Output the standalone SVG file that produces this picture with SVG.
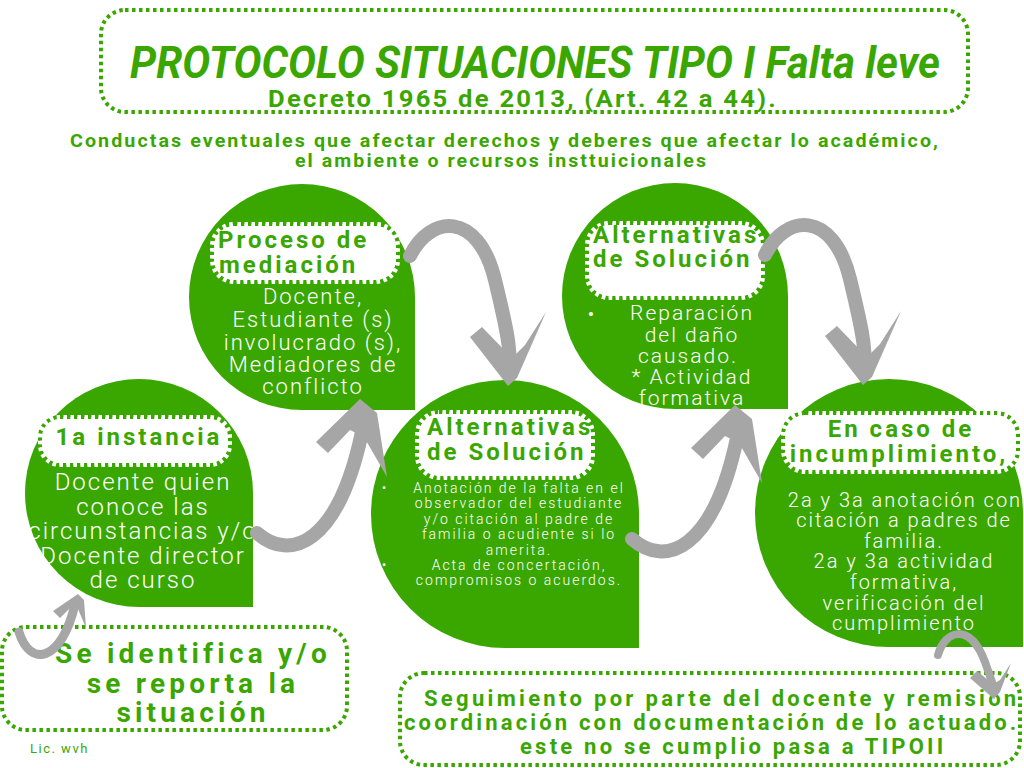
<svg xmlns="http://www.w3.org/2000/svg" width="1024" height="768" viewBox="0 0 1024 768">
<style>
.blob{fill:#3aa700}
.dotbox{fill:none;stroke:#3aa700;stroke-width:4;stroke-dasharray:3.5 3.5}
.lb{fill:#fff;stroke:#3aa700;stroke-width:4;stroke-dasharray:3.5 3.5}
.lbw{fill:none;stroke:#fff;stroke-width:4;stroke-dasharray:3.5 3.5;stroke-dashoffset:3.5}
text{font-family:Roboto,"Liberation Sans",sans-serif}
.gt{font-weight:700;fill:#3aa700}
.lt{font-weight:700;font-size:24px;fill:#3aa700;letter-spacing:3px}
.bt{fill:#fff;font-weight:300;letter-spacing:2px;text-anchor:middle}
.arr{fill:none;stroke:#a6a6a6;stroke-width:14;stroke-linecap:round}
.ah{fill:#a6a6a6}
</style>

<g id="header">
<rect class="dotbox" x="101" y="10" width="867" height="102" rx="24"/>
<text class="gt" x="130" y="78" font-size="44" font-style="italic" textLength="810" lengthAdjust="spacingAndGlyphs">PROTOCOLO SITUACIONES TIPO I Falta leve</text>
<text class="gt" x="268" y="107" font-size="23" letter-spacing="2" textLength="510" lengthAdjust="spacingAndGlyphs">Decreto 1965 de 2013, (Art. 42 a 44).</text>
</g>

<g id="intro">
<text class="gt" x="70" y="147" font-size="19" letter-spacing="2" textLength="870" lengthAdjust="spacingAndGlyphs">Conductas eventuales que afectar derechos y deberes que afectar lo académico,</text>
<text class="gt" x="295" y="167" font-size="19" letter-spacing="2" textLength="413" lengthAdjust="spacingAndGlyphs">el ambiente o recursos insttuicionales</text>
</g>

<g id="n1">
<path class="blob" d="M25,493 A114,114 0 0 1 139,379 A114,114 0 0 1 253,493 L253,607 L139,607 A114,114 0 0 1 25,493 Z"/>
<rect class="lb" x="40" y="417" width="190" height="48" rx="20"/>
<rect class="lbw" x="40" y="417" width="190" height="48" rx="20"/>
<text class="lt" x="139" y="445" text-anchor="middle" letter-spacing="2.6">1a instancia</text>
<g class="bt" font-size="24" letter-spacing="3.4">
<text x="143" y="490">Docente quien</text>
<text x="143" y="514.5">conoce las</text>
<text x="143" y="539">circunstancias y/o</text>
<text x="143" y="563.5">Docente director</text>
<text x="143" y="588">de curso</text>
</g>
</g>

<g id="n2">
<path class="blob" d="M189,297 A113,113 0 0 1 302,184 A113,113 0 0 1 415,297 L415,410 L302,410 A113,113 0 0 1 189,297 Z"/>
<rect class="lb" x="212" y="224" width="186" height="58" rx="22"/>
<rect class="lbw" x="212" y="224" width="186" height="58" rx="22"/>
<text class="lt" x="218" y="248" font-size="25" letter-spacing="3.6">Proceso de</text>
<text class="lt" x="219" y="273" font-size="25" letter-spacing="3.6">mediación</text>
<g class="bt" font-size="22" letter-spacing="2.9">
<text x="313" y="304">Docente,</text>
<text x="313" y="327">Estudiante (s)</text>
<text x="313" y="350">involucrado (s),</text>
<text x="313" y="372">Mediadores de</text>
<text x="313" y="394">conflicto</text>
</g>
</g>

<g id="n3">
<path class="blob" d="M371,514 A134,134 0 0 1 505,380 A134,134 0 0 1 639,514 L639,648 L505,648 A134,134 0 0 1 371,514 Z"/>
<rect class="lb" x="417" y="412" width="176" height="66" rx="22"/>
<rect class="lbw" x="417" y="412" width="176" height="66" rx="22"/>
<text class="lt" x="427" y="435">Alternativas</text>
<text class="lt" x="427" y="460">de Solución</text>
<g class="bt" font-size="14" letter-spacing="2">
<text x="385" y="493">•</text>
<text x="519" y="493">Anotación de la falta en el</text>
<text x="519" y="508">observador del estudiante</text>
<text x="519" y="524">y/o citación al padre de</text>
<text x="519" y="539">familia o acudiente si lo</text>
<text x="519" y="555">amerita.</text>
<text x="385" y="570">•</text>
<text x="519" y="570">Acta de concertación,</text>
<text x="519" y="585">compromisos o acuerdos.</text>
</g>
</g>

<g id="n4">
<path class="blob" d="M562,296 A113,113 0 0 1 675,183 A113,113 0 0 1 788,296 L788,409 L675,409 A113,113 0 0 1 562,296 Z"/>
<rect class="lb" x="587" y="223" width="176" height="75" rx="22"/>
<rect class="lbw" x="587" y="223" width="176" height="75" rx="22"/>
<text class="lt" x="593" y="243">Alternativas</text>
<text class="lt" x="593" y="267">de Solución</text>
<g class="bt" font-size="21" letter-spacing="2.7">
<text x="592" y="321">•</text>
<text x="692" y="320">Reparación</text>
<text x="692" y="342">del daño</text>
<text x="688" y="363">causado.</text>
<text x="692" y="384">* Actividad</text>
<text x="692" y="405">formativa</text>
</g>
</g>

<g id="n5">
<path class="blob" d="M755,513 A134,134 0 0 1 889,379 A134,134 0 0 1 1023,513 L1023,647 L889,647 A134,134 0 0 1 755,513 Z"/>
<rect class="lb" x="783" y="413" width="235" height="59" rx="22"/>
<rect class="lbw" x="783" y="413" width="235" height="59" rx="22"/>
<text class="lt" x="901" y="437" text-anchor="middle">En caso de</text>
<text class="lt" x="899" y="462" text-anchor="middle" letter-spacing="2.7">incumplimiento,</text>
<g class="bt" font-size="20" letter-spacing="2.6">
<text x="905" y="507">2a y 3a anotación con</text>
<text x="904" y="527">citación a padres de</text>
<text x="904" y="548">familia.</text>
<text x="904" y="568">2a y 3a actividad</text>
<text x="904" y="589">formativa,</text>
<text x="904" y="610">verificación del</text>
<text x="904" y="630">cumplimiento</text>
</g>
</g>

<g id="n0">
<rect class="dotbox" x="2" y="627" width="345" height="103" rx="24"/>
<g class="gt" font-size="28" letter-spacing="4.2" text-anchor="middle">
<text x="193" y="663">Se identifica y/o</text>
<text x="193" y="693">se reporta la</text>
<text x="193" y="722">situación</text>
</g>
</g>

<g id="n6">
<rect class="dotbox" x="400" y="673" width="620" height="92" rx="24"/>
<g class="gt" font-size="22" letter-spacing="1.8">
<text x="424" y="706" textLength="594" lengthAdjust="spacing">Seguimiento  por parte del docente y remisión</text>
<text x="404" y="730" textLength="614" lengthAdjust="spacing">coordinación con documentación de lo actuado.</text>
<text x="520" y="754" textLength="425" lengthAdjust="spacing">este no se cumplio pasa a TIPOII</text>
</g>
</g>

<text x="30" y="753" font-size="13" fill="#3aa700" letter-spacing="1.5">Lic. wvh</text>

<g id="connectors">
<g id="c1">
<path class="arr" d="M257,533 C290,562 338,545 362,432"/>
<polygon class="ah" points="316,442 360,399 377,413 387,477 364,437 350,430 328,453"/>
</g>
<g id="c2">
<path class="arr" d="M410,256 C430,215 478,210 495,280 S508,345 510,360"/>
<polygon class="ah" points="470,337 508,386 517,378 546,312 525,345 512,358 482,327"/>
</g>
<g id="c3" transform="translate(375,6)">
<path class="arr" d="M257,533 C290,562 338,545 362,432"/>
<polygon class="ah" points="316,442 360,399 377,413 387,477 364,437 350,430 328,453"/>
</g>
<g id="c4" transform="translate(355,-1)">
<path class="arr" d="M410,256 C430,215 478,210 495,280 S508,345 510,360"/>
<polygon class="ah" points="470,337 508,386 517,378 546,312 525,345 512,358 482,327"/>
</g>
<g id="c5">
<path class="arr" style="stroke-width:8" d="M938,655 C945,630 970,622 985,662 L992,682"/>
<polygon class="ah" points="970,678 994,699 1000,692 1011,663 1000,680 993,684 977,671"/>
</g>
<g id="c6">
<path class="arr" style="stroke-width:9" d="M19,632 C30,668 62,662 75,604"/>
<polygon class="ah" points="53,611 78,594 84,600 86,628 78,609 72,606 60,618"/>
</g>
</g>
</svg>
